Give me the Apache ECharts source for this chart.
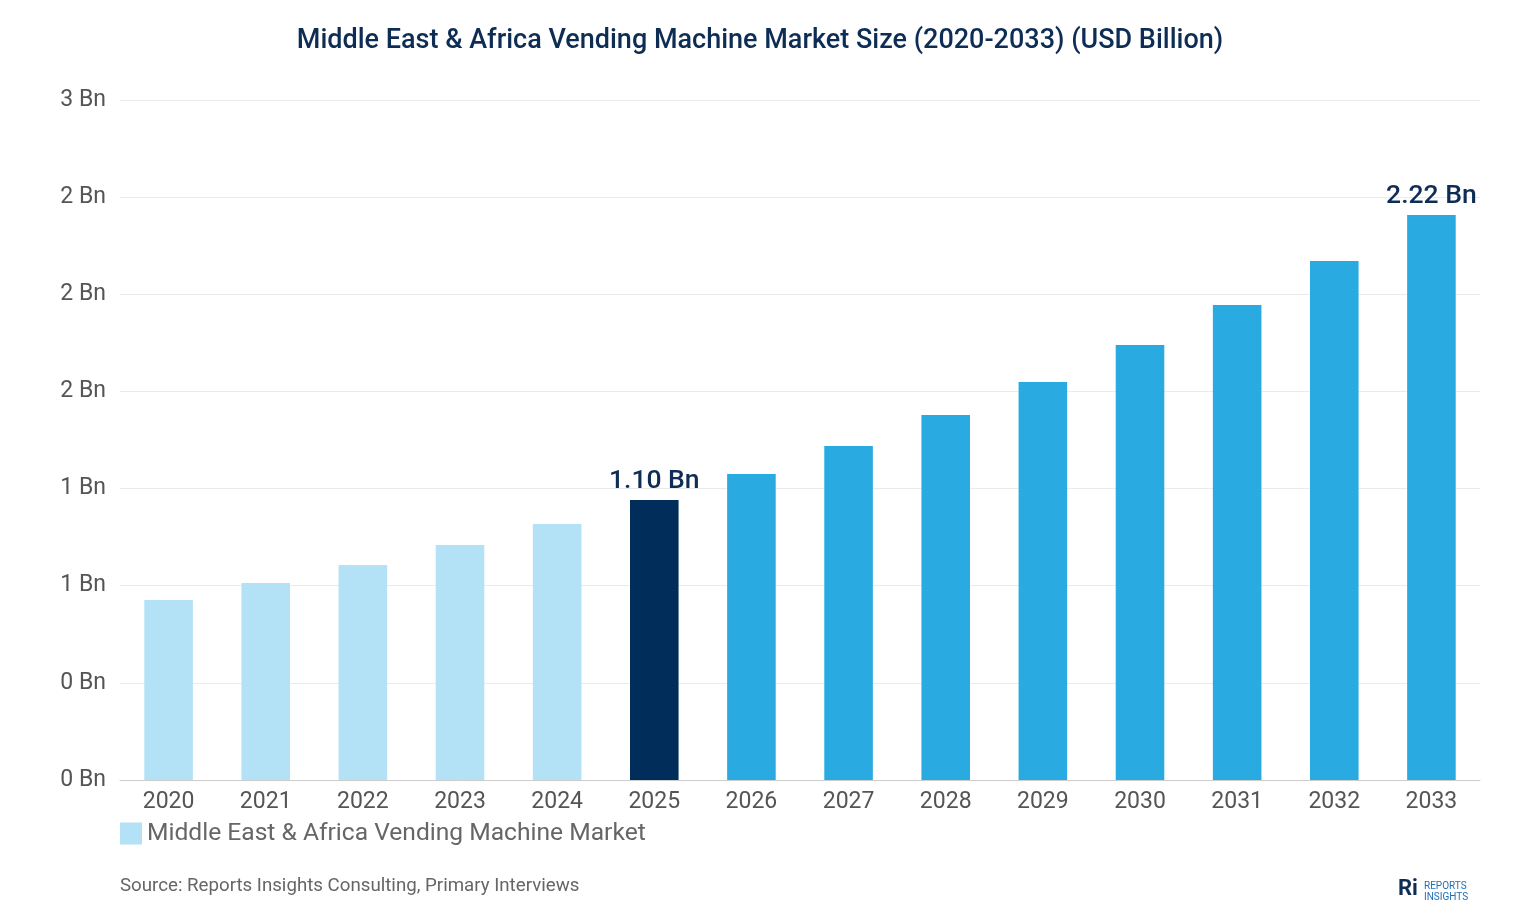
<!DOCTYPE html>
<html><head><meta charset="utf-8">
<script src="https://cdn.jsdelivr.net/npm/echarts@6/dist/echarts.min.js"></script>
<style>body{margin:0}#c{width:1520px;height:920px}</style></head>
<body><div id="c"></div>
<script>
const years = ["2020","2021","2022","2023","2024","2025","2026","2027","2028","2029","2030","2031","2032","2033"];
const values = [0.707,0.774,0.845,0.923,1.006,1.10,1.202,1.312,1.434,1.564,1.709,1.866,2.039,2.22];
const labelled = {"2025":"1.10 Bn","2033":"2.22 Bn"};

function barColor(i) {
  if (years[i] < "2025") return "#b3e1f5";
  if (years[i] === "2025") return "#002d5a";
  return "#29abe2";
}

const chart = echarts.init(document.getElementById("c"));
chart.setOption({
  title: {
    text: "Middle East & Africa Vending Machine Market Size (2020-2033) (USD Billion)",
    left: "center", top: 23,
    textStyle: {fontFamily: "Roboto", fontSize: 27, fontWeight: 500, color: "#0d2d55"}
  },
  grid: {left: 120, right: 40, top: 100, bottom: 140},
  legend: {
    left: 115, top: 816, itemWidth: 22, itemHeight: 22, icon: "rect",
    textStyle: {fontFamily: "Roboto", fontSize: 24.6, color: "#666"},
    data: [{name: "Middle East & Africa Vending Machine Market", itemStyle: {color: "#b3e1f5"}}]
  },
  xAxis: {
    type: "category", data: years,
    axisTick: {show: false},
    axisLine: {lineStyle: {color: "#ccc"}},
    axisLabel: {fontFamily: "Roboto", fontSize: 23, color: "#555", margin: 11}
  },
  yAxis: {
    type: "value", min: 0, max: 2.672, interval: 0.3817,
    axisLabel: {fontFamily: "Roboto", fontSize: 23, color: "#555", margin: 14,
      formatter: v => Math.round(v) + " Bn"},
    splitLine: {lineStyle: {color: "#ebebeb"}}
  },
  series: [{
    name: "Middle East & Africa Vending Machine Market",
    type: "bar", barWidth: "50%",
    data: values.map((v, i) => ({value: v, itemStyle: {color: barColor(i)}})),
    label: {
      show: true, position: "top", distance: 5,
      fontFamily: "Roboto", fontSize: 26.5, fontWeight: 500, color: "#0d2d55",
      formatter: p => labelled[p.name] || ""
    }
  }],
  graphic: [
    {type: "text", left: 120, top: 877, style: {text: "Source: Reports Insights Consulting, Primary Interviews", fontFamily: "Roboto", fontSize: 18.7, fill: "#666"}},
    {type: "text", left: 1398, top: 878, style: {text: "Ri", fontFamily: "Roboto", fontSize: 22, fontWeight: "bold", fill: "#0d2d55"}},
    {type: "text", left: 1424, top: 881, style: {text: "REPORTS\nINSIGHTS", fontFamily: "Roboto", fontSize: 10, lineHeight: 11, fill: "#1f6fb5"}}
  ]
});
</script></body></html>
